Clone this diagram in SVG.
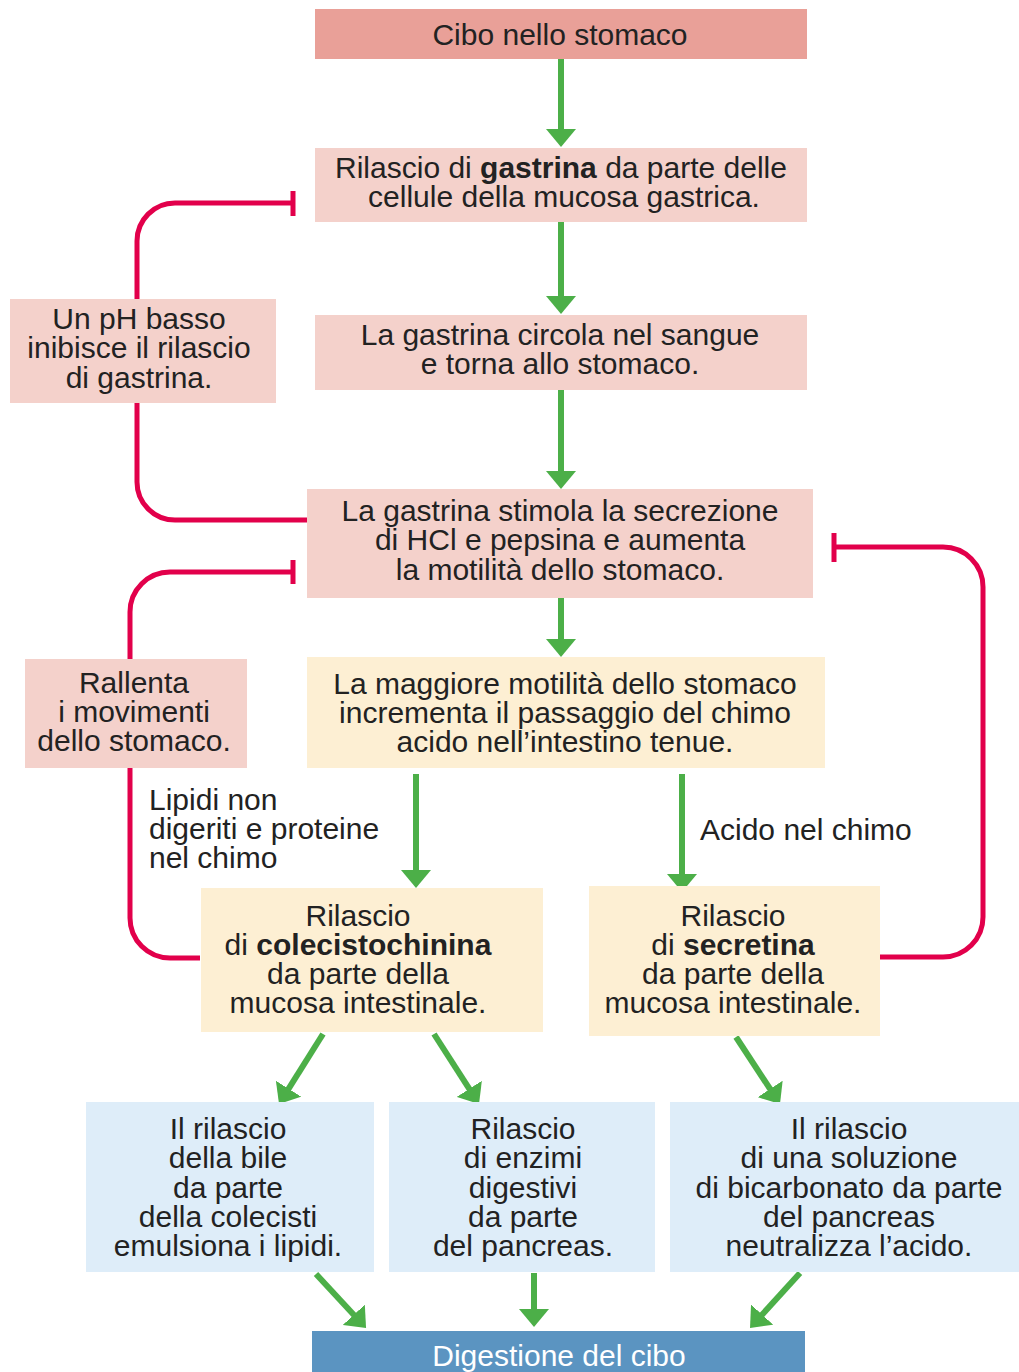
<svg xmlns="http://www.w3.org/2000/svg" width="1019" height="1372" viewBox="0 0 1019 1372">
<style>
.t{font-family:"Liberation Sans",Arial,sans-serif;font-size:30px;fill:#222;text-anchor:middle}
.l{text-anchor:start}
.b{font-weight:bold}
.g{stroke:#4caf48;stroke-width:6;fill:none;marker-end:url(#ah)}
.r{stroke:#e2004b;stroke-width:5;fill:none}
.c1{fill:#e9a098}.pk{fill:#f4d1cb}.cr{fill:#fdefd3}.bl{fill:#deedf9}.db{fill:#5b94c1}
</style>
<defs>
<marker id="ah" viewBox="0 0 18 30" refX="6" refY="15" markerWidth="18" markerHeight="30" markerUnits="userSpaceOnUse" orient="auto">
<path d="M0,0 L18,15 L0,30 z" fill="#4caf48"/>
</marker>
</defs>
<g id="connectors">
<path class="r" d="M307,520 H175 A38,38 0 0 1 137,482 V241 A38,38 0 0 1 175,203 H293 M293,191 V216"/>
<path class="r" d="M200,958 H170 A40,40 0 0 1 130,918 V612 A40,40 0 0 1 170,572 H293 M293,560 V584"/>
<path class="r" d="M879,957 H943 A40,40 0 0 0 983,917 V587 A40,40 0 0 0 943,547 H834 M834,533 V562"/>
<line class="g" x1="561" y1="59" x2="561" y2="135"/>
<line class="g" x1="561" y1="222" x2="561" y2="302"/>
<line class="g" x1="561" y1="390" x2="561" y2="477"/>
<line class="g" x1="561" y1="598" x2="561" y2="645"/>
<line class="g" x1="416" y1="774" x2="416" y2="876"/>
<line class="g" x1="682" y1="774" x2="682" y2="880"/>
<line class="g" x1="323" y1="1034" x2="285.4" y2="1093.8"/>
<line class="g" x1="434" y1="1034" x2="472.5" y2="1093.9"/>
<line class="g" x1="736" y1="1037" x2="773.4" y2="1094"/>
<line class="g" x1="316" y1="1274" x2="357.9" y2="1319.2"/>
<line class="g" x1="534" y1="1273" x2="534" y2="1315"/>
<line class="g" x1="800" y1="1273" x2="758.1" y2="1319.1"/>
</g>
<g id="n1"><rect class="c1" x="315" y="9" width="492" height="50"/><text class="t" x="560" y="45">Cibo nello stomaco</text></g>
<g id="n2"><rect class="pk" x="315" y="148" width="492" height="74"/><text class="t" x="561" y="178">Rilascio di <tspan class="b">gastrina</tspan> da parte delle</text><text class="t" x="564" y="207">cellule della mucosa gastrica.</text></g>
<g id="n3"><rect class="pk" x="315" y="315" width="492" height="75"/><text class="t" x="560" y="345">La gastrina circola nel sangue</text><text class="t" x="560" y="374">e torna allo stomaco.</text></g>
<g id="n4"><rect class="pk" x="307" y="489" width="506" height="109"/><text class="t" x="560" y="521">La gastrina stimola la secrezione</text><text class="t" x="560" y="550">di HCl e pepsina e aumenta</text><text class="t" x="560" y="580">la motilità dello stomaco.</text></g>
<g id="n5"><rect class="pk" x="10" y="299" width="266" height="104"/><text class="t" x="139" y="329">Un pH basso</text><text class="t" x="139" y="358">inibisce il rilascio</text><text class="t" x="139" y="388">di gastrina.</text></g>
<g id="n6"><rect class="pk" x="25" y="659" width="222" height="109"/><text class="t" x="134" y="693">Rallenta</text><text class="t" x="134" y="722">i movimenti</text><text class="t" x="134" y="751">dello stomaco.</text></g>
<g id="n7"><rect class="cr" x="307" y="657" width="518" height="111"/><text class="t" x="565" y="694">La maggiore motilità dello stomaco</text><text class="t" x="565" y="723">incrementa il passaggio del chimo</text><text class="t" x="565" y="752">acido nell’intestino tenue.</text></g>
<g id="lab1"><text class="t l" x="149" y="810">Lipidi non</text><text class="t l" x="149" y="839">digeriti e proteine</text><text class="t l" x="149" y="868">nel chimo</text></g>
<g id="lab2"><text class="t l" x="700" y="840">Acido nel chimo</text></g>
<g id="n8"><rect class="cr" x="201" y="888" width="342" height="144"/><text class="t" x="358" y="926">Rilascio</text><text class="t" x="358" y="955">di <tspan class="b">colecistochinina</tspan></text><text class="t" x="358" y="984">da parte della</text><text class="t" x="358" y="1013">mucosa intestinale.</text></g>
<g id="n9"><rect class="cr" x="589" y="886" width="291" height="150"/><text class="t" x="733" y="926">Rilascio</text><text class="t" x="733" y="955">di <tspan class="b">secretina</tspan></text><text class="t" x="733" y="984">da parte della</text><text class="t" x="733" y="1013">mucosa intestinale.</text></g>
<g id="n10"><rect class="bl" x="86" y="1102" width="288" height="170"/><text class="t" x="228" y="1139">Il rilascio</text><text class="t" x="228" y="1168">della bile</text><text class="t" x="228" y="1198">da parte</text><text class="t" x="228" y="1227">della colecisti</text><text class="t" x="228" y="1256">emulsiona i lipidi.</text></g>
<g id="n11"><rect class="bl" x="389" y="1102" width="266" height="170"/><text class="t" x="523" y="1139">Rilascio</text><text class="t" x="523" y="1168">di enzimi</text><text class="t" x="523" y="1198">digestivi</text><text class="t" x="523" y="1227">da parte</text><text class="t" x="523" y="1256">del pancreas.</text></g>
<g id="n12"><rect class="bl" x="670" y="1102" width="349" height="170"/><text class="t" x="849" y="1139">Il rilascio</text><text class="t" x="849" y="1168">di una soluzione</text><text class="t" x="849" y="1198">di bicarbonato da parte</text><text class="t" x="849" y="1227">del pancreas</text><text class="t" x="849" y="1256">neutralizza l’acido.</text></g>
<g id="n13"><rect class="db" x="312" y="1331" width="493" height="41"/><text class="t" x="559" y="1366" style="fill:#fff">Digestione del cibo</text></g>
</svg>
